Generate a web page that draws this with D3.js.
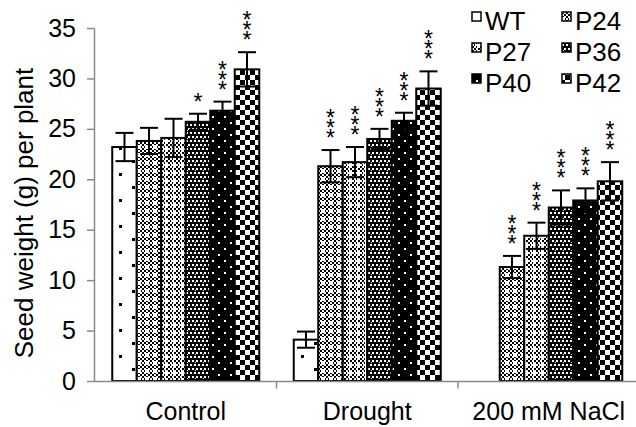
<!DOCTYPE html>
<html>
<head>
<meta charset="utf-8">
<script src="https://cdn.jsdelivr.net/npm/d3@7"></script>
<style>
  body { margin: 0; background: #fff; }
  text { font-family: "Liberation Sans", Arial, sans-serif; fill: #000; }
</style>
</head>
<body>
<div id="chart"></div>
<script>
// chart data
const groups = ["Control", "Drought", "200 mM NaCl"];
const lines = ["WT", "P24", "P27", "P36", "P40", "P42"];
const control = [23.2, 23.8, 24.1, 25.7, 26.8, 30.9];
const controlErr = [1.4, 1.3, 1.9, 0.8, 0.9, 1.7];
const drought = [4.1, 21.3, 21.7, 24.0, 25.8, 29.0];
const droughtErr = [0.8, 1.6, 1.5, 1.0, 0.8, 1.7];
const nacl = [null, 11.3, 14.4, 17.2, 17.9, 19.8];
const naclErr = [null, 1.1, 1.3, 1.7, 1.2, 1.9];
const stars = [[0, 0, 0, 1, 3, 3], [0, 3, 3, 3, 3, 3], [0, 3, 3, 3, 3, 3]];
const yTicks = [0, 5, 10, 15, 20, 25, 30, 35];

const values = [control, drought, nacl];
const errors = [controlErr, droughtErr, naclErr];

const W = 636, H = 427;
const margin = { top: 28, left: 95 };
const plotW = 544.5, plotH = 353;

const svg = d3.select("#chart").append("svg")
  .attr("width", W)
  .attr("height", H);

// fill patterns, one per line
const defs = svg.append("defs");
function pattern(id, size, bg, fg, rects) {
  const p = defs.append("pattern")
    .attr("id", id)
    .attr("patternUnits", "userSpaceOnUse")
    .attr("width", size)
    .attr("height", size);
  p.append("rect").attr("width", size).attr("height", size).attr("fill", bg);
  rects.forEach(r => {
    p.append("rect").attr("x", r[0]).attr("y", r[1])
      .attr("width", r[2]).attr("height", r[3]).attr("fill", fg);
  });
}
const checker2 = [[0,0,2,2],[4,0,2,2],[2,2,2,2],[6,2,2,2],[0,4,2,2],[4,4,2,2],[2,6,2,2],[6,6,2,2]];
pattern("pWT", 26, "#fff", "#000", [[2,4,3,3],[15,17,3,3]]);
pattern("pP24", 8, "#000", "#fff", checker2.concat([[1,2,4,2],[2,1,2,4]]));
pattern("pP27", 8, "#000", "#fff", checker2.concat([[5,2,2,6],[3,4,6,2],[0,0,1,1]]));
pattern("pP36", 8, "#000", "#fff", [[0,0,2,2],[4,0,2,2],[2,4,2,2],[6,4,2,2],[3,2,1,1]]);
pattern("pP40", 12, "#000", "#fff", [[2,2,2,2],[8,8,2,2]]);
pattern("pP42", 10, "#fff", "#000", [[0,0,5,5],[5,5,5,5]]);
const fills = lines.map(l => "url(#p" + l + ")");

const x0 = d3.scaleBand()
  .domain(groups)
  .range([margin.left, margin.left + plotW]);

const x1 = d3.scaleBand()
  .domain(lines)
  .range([0, x0.bandwidth()])
  .paddingOuter(0.704);

const y = d3.scaleLinear()
  .domain([0, 35])
  .range([margin.top + plotH, margin.top]);

const axisColor = "#8a8a8a";

// y axis
const yAxis = svg.append("g")
  .attr("transform", `translate(${margin.left - 1},0)`)
  .call(d3.axisLeft(y).tickValues(yTicks).tickSize(7).tickSizeOuter(0).tickPadding(11));
yAxis.select(".domain").attr("stroke", axisColor).attr("stroke-width", 1.5);
yAxis.selectAll(".tick line").attr("stroke", axisColor).attr("stroke-width", 1.5);
yAxis.selectAll(".tick text")
  .style("font-size", "25px")
  .attr("fill", "#000")
  .attr("font-family", "Liberation Sans, Arial, sans-serif");

svg.append("text")
  .attr("transform", "translate(33,213) rotate(-90)")
  .attr("text-anchor", "middle")
  .style("font-size", "26px")
  .text("Seed weight (g) per plant");

// bars
const flat = [];
groups.forEach((g, gi) => {
  lines.forEach((l, li) => {
    flat.push({ g, gi, l, li, v: values[gi][li], e: errors[gi][li], s: stars[gi][li] });
  });
});
const data = flat.filter(d => d.v != null);

svg.append("g").selectAll("rect")
  .data(data)
  .enter()
  .append("rect")
  .attr("x", d => x0(d.g) + x1(d.l))
  .attr("y", d => y(d.v))
  .attr("width", x1.bandwidth())
  .attr("height", d => y(0) - y(d.v))
  .attr("fill", d => fills[d.li])
  .attr("stroke", "#000")
  .attr("stroke-width", 2);

// error bars
const cap = 9;
const eb = svg.append("g").attr("stroke", "#000").attr("stroke-width", 2);
data.forEach(d => {
  const cx = x0(d.g) + x1(d.l) + x1.bandwidth() / 2;
  const top = y(d.v + d.e), bot = y(d.v - d.e);
  eb.append("line").attr("x1", cx).attr("x2", cx).attr("y1", top).attr("y2", bot);
  eb.append("line").attr("x1", cx - cap).attr("x2", cx + cap).attr("y1", top).attr("y2", top);
  eb.append("line").attr("x1", cx - cap).attr("x2", cx + cap).attr("y1", bot).attr("y2", bot);
});

// significance stars, stacked one above the other
const st = svg.append("g");
data.filter(d => d.s > 0).forEach(d => {
  const cx = x0(d.g) + x1(d.l) + x1.bandwidth() / 2;
  const top = y(d.v + d.e);
  for (let i = 0; i < d.s; i++) {
    const cy = top - 17 - i * 10;
    st.append("text")
      .attr("x", cx)
      .attr("y", cy + 13)
      .attr("text-anchor", "middle")
      .style("font-size", "23px")
      .text("*");
  }
});

// x axis
const base = y(0) + 0.5;
svg.append("line")
  .attr("x1", margin.left - 1).attr("x2", W)
  .attr("y1", base).attr("y2", base)
  .attr("stroke", axisColor).attr("stroke-width", 1.5);
groups.slice(1).forEach(g => {
  svg.append("line")
    .attr("x1", x0(g)).attr("x2", x0(g))
    .attr("y1", base).attr("y2", base + 7)
    .attr("stroke", axisColor).attr("stroke-width", 1.5);
});
svg.append("g").selectAll("text")
  .data(groups)
  .enter()
  .append("text")
  .attr("x", g => x0(g) + x0.bandwidth() / 2)
  .attr("y", 420)
  .attr("text-anchor", "middle")
  .style("font-size", "25px")
  .text(g => g);

// legend
const legend = svg.append("g");
lines.forEach((l, i) => {
  const col = i % 2, row = Math.floor(i / 2);
  const lx = 472 + col * 90, ly = 12 + row * 31;
  legend.append("rect")
    .attr("x", lx).attr("y", ly)
    .attr("width", 9).attr("height", 9)
    .attr("fill", fills[i])
    .attr("stroke", "#000").attr("stroke-width", 1.5);
  legend.append("text")
    .attr("x", lx + 13).attr("y", ly + 18)
    .style("font-size", "26px")
    .text(l);
});
</script>
</body>
</html>
